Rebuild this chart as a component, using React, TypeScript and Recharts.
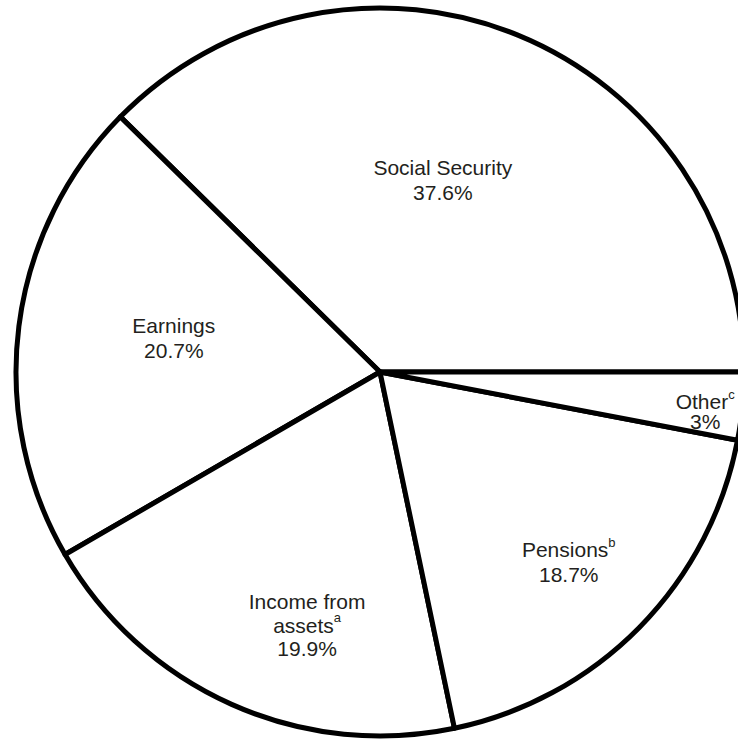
import { PieChart, Pie, Cell } from "recharts"

const sources = ["Social Security", "Earnings", "Income from assets", "Pensions", "Other"]
const shares = [37.6, 20.7, 19.9, 18.7, 3]
const footnotes = ["", "", "a", "b", "c"]
// how each category name wraps in its label
const nameLines = [["Social Security"], ["Earnings"], ["Income from", "assets"], ["Pensions"], ["Other"]]

const data = sources.map((name, i) => ({ name, value: shares[i] }))

// label placement: fraction of radius, nudge from slice mid angle (deg), line spacing
const labelPlacement = [
  { r: 0.554, da: 4.1, gap: 25 },
  { r: 0.574, da: -2.1, gap: 25 },
  { r: 0.724, da: 8, gap: 23.5 },
  { r: 0.736, da: -0.7, gap: 25 },
  { r: 0.9, da: -1.6, gap: 20 },
]

const RADIAN = Math.PI / 180
const fontSize = 21
const textColor = "#231f20"
const font = "'Liberation Sans', Arial, sans-serif"

function SliceLabel(props: any) {
  const { cx, cy, midAngle, outerRadius, index } = props
  const place = labelPlacement[index]
  const angle = (midAngle + place.da) * RADIAN
  const r = outerRadius * place.r
  const x = cx + r * Math.cos(-angle)
  const y = cy + r * Math.sin(-angle)
  const lines = nameLines[index]
  const total = lines.length + 1
  const top = y - ((total - 1) * place.gap) / 2
  return (
    <g>
      {lines.map((ln, j) => (
        <text
          key={j}
          x={x}
          y={top + j * place.gap}
          textAnchor="middle"
          dominantBaseline="central"
          fill={textColor}
          fontSize={fontSize}
          fontFamily={font}
        >
          {ln}
          {j === lines.length - 1 && footnotes[index] ? (
            <tspan dy={-8} fontSize={13}>
              {footnotes[index]}
            </tspan>
          ) : null}
        </text>
      ))}
      <text
        x={x}
        y={top + lines.length * place.gap}
        textAnchor="middle"
        dominantBaseline="central"
        fill={textColor}
        fontSize={fontSize}
        fontFamily={font}
      >
        {shares[index] + "%"}
      </text>
    </g>
  )
}

export default function App() {
  return (
    <div
      style={{
        position: "absolute",
        left: 0,
        top: 0,
        width: 738,
        height: 740,
        overflow: "hidden",
        background: "#fff",
      }}
    >
      <PieChart width={738} height={740} margin={{ top: 0, right: 0, bottom: 0, left: 0 }}>
        <Pie
          data={data}
          dataKey="value"
          nameKey="name"
          cx={380}
          cy={372}
          outerRadius={364}
          startAngle={0}
          endAngle={360}
          stroke="#000"
          strokeWidth={5}
          strokeLinejoin="round"
          labelLine={false}
          label={SliceLabel}
          isAnimationActive={false}
        >
          {data.map((d) => (
            <Cell key={d.name} fill="#fff" stroke="#000" strokeWidth={5} />
          ))}
        </Pie>
      </PieChart>
    </div>
  )
}
